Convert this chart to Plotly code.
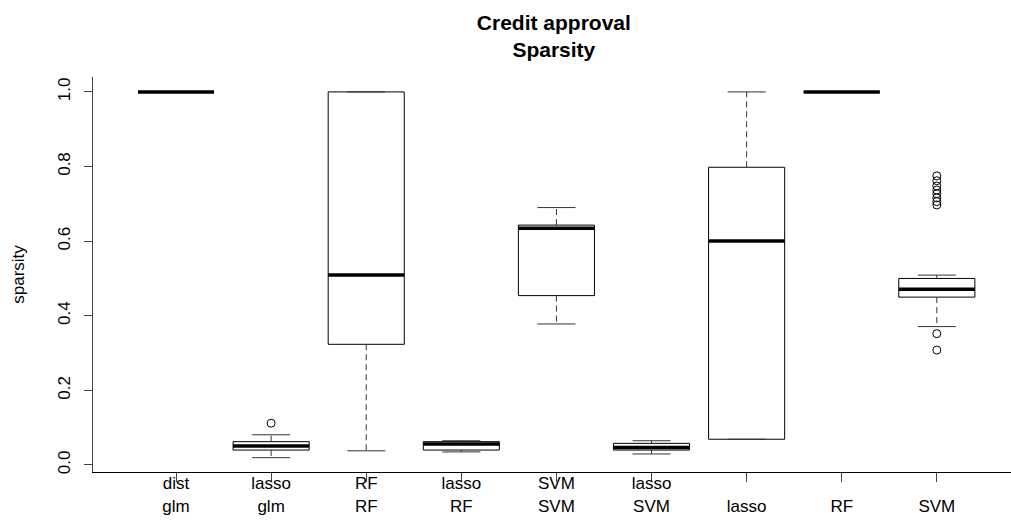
import plotly.graph_objects as go

# Sparsity of the fitted models on the credit approval data (per method pair)
labels = ["dist<br>glm", "lasso<br>glm", "RF<br>RF", "lasso<br>RF", "SVM<br>SVM",
          "lasso<br>SVM", " <br>lasso", " <br>RF", " <br>SVM"]
q1 = [1.0, 0.040, 0.3235, 0.040, 0.454, 0.040, 0.069, 1.0, 0.450]
median = [1.0, 0.051, 0.509, 0.056, 0.6345, 0.047, 0.6005, 1.0, 0.471]
q3 = [1.0, 0.0625, 1.0, 0.0625, 0.643, 0.058, 0.798, 1.0, 0.500]
lower_whisker = [1.0, 0.0196, 0.038, 0.035, 0.378, 0.0295, 0.069, 1.0, 0.371]
upper_whisker = [1.0, 0.081, 1.0, 0.065, 0.690, 0.065, 1.0, 1.0, 0.509]
outliers = [[], [0.112], [], [], [], [], [], [],
            [0.352, 0.308, 0.775, 0.762, 0.748, 0.737, 0.727, 0.716, 0.706, 0.697]]

half_box = 0.4
half_cap = 0.2
ink = "#000000"

fig = go.Figure()

for i in range(len(labels)):
    x = i + 1
    # box outline
    fig.add_trace(go.Scatter(
        x=[x - half_box, x + half_box, x + half_box, x - half_box, x - half_box],
        y=[q1[i], q1[i], q3[i], q3[i], q1[i]],
        mode="lines", line=dict(color=ink, width=1), hoverinfo="skip"))
    # dashed whiskers
    for a, b in ((q3[i], upper_whisker[i]), (q1[i], lower_whisker[i])):
        if a != b:
            fig.add_trace(go.Scatter(
                x=[x, x], y=[a, b], mode="lines",
                line=dict(color="#333333", width=1, dash="6px,4px"),
                hoverinfo="skip"))
    # whisker caps
    for w in (upper_whisker[i], lower_whisker[i]):
        fig.add_trace(go.Scatter(
            x=[x - half_cap, x + half_cap], y=[w, w], mode="lines",
            line=dict(color="#333333", width=1), hoverinfo="skip"))
    # median
    fig.add_trace(go.Scatter(
        x=[x - half_box, x + half_box], y=[median[i], median[i]], mode="lines",
        line=dict(color=ink, width=3.5), hoverinfo="skip"))
    # outliers
    if outliers[i]:
        fig.add_trace(go.Scatter(
            x=[x] * len(outliers[i]), y=outliers[i], mode="markers",
            marker=dict(symbol="circle-open", size=8, color=ink,
                        line=dict(width=1, color=ink)),
            hoverinfo="skip"))

fig.update_layout(
    width=1011, height=521,
    margin=dict(l=93, r=0, t=77, b=49, autoexpand=False),
    paper_bgcolor="white", plot_bgcolor="white",
    showlegend=False,
    font=dict(family="Liberation Sans, Arial, sans-serif", size=17, color="#000000"),
    title=dict(text="<b>Credit approval<br>Sparsity</b>",
               x=0.502, xref="paper", xanchor="center",
               y=0.943, yref="container", yanchor="middle",
               font=dict(size=21)),
    xaxis=dict(range=[0.127, 9.78], tickmode="array",
               tickvals=list(range(1, len(labels) + 1)), ticktext=labels,
               showgrid=False, zeroline=False, showline=True,
               linecolor="#000000", linewidth=1,
               ticks="outside", ticklen=9, tickcolor="#444444",
               ticklabelstandoff=-13, automargin=False,
               tickfont=dict(size=17)),
    yaxis=dict(range=[-0.0188, 1.04], tickmode="array",
               tickvals=[0.0, 0.2, 0.4, 0.6, 0.8, 1.0],
               ticktext=["0.0", "0.2", "0.4", "0.6", "0.8", "1.0"],
               tickangle=-90,
               showgrid=False, zeroline=False, showline=True,
               linecolor="#444444", linewidth=1,
               ticks="outside", ticklen=8, tickcolor="#444444",
               ticklabelstandoff=7, automargin=False,
               tickfont=dict(size=17),
               title=dict(text="sparsity", standoff=26, font=dict(size=17))),
)

fig.write_html("out.html")
